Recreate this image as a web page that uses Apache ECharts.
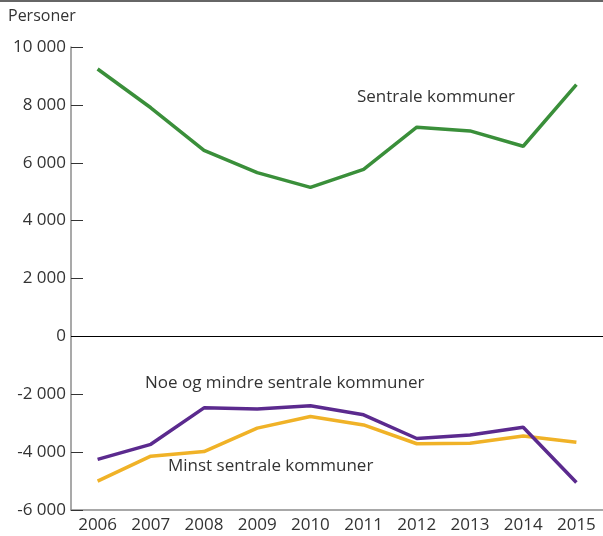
<!DOCTYPE html>
<html>
<head>
<meta charset="utf-8">
<script src="https://cdn.jsdelivr.net/npm/echarts@6/dist/echarts.min.js"></script>
<style>
  html, body { margin: 0; padding: 0; background: #fff; }
  #chart { width: 603px; height: 536px; }
</style>
</head>
<body>
<div id="chart"></div>
<script>
// år og verdier lest av figuren
var years = ['2006', '2007', '2008', '2009', '2010', '2011', '2012', '2013', '2014', '2015'];
var sentrale = [9240, 7900, 6430, 5660, 5150, 5770, 7230, 7100, 6570, 8700];
var noeMindre = [-4250, -3730, -2470, -2510, -2400, -2710, -3530, -3410, -3140, -5050];
var minst = [-5000, -4140, -3980, -3170, -2770, -3060, -3710, -3690, -3440, -3660];

var font = '"Open Sans", "Noto Sans", sans-serif';

function fmt(v) {
    var s = Math.abs(v).toString().replace(/\B(?=(\d{3})+(?!\d))/g, ' ');
    return (v < 0 ? '-' : '') + s;
}

var myChart = echarts.init(document.getElementById('chart'));
var option = {
    animation: false,
    grid: { left: 71, top: 47, bottom: 26, width: 538 },
    xAxis: {
        type: 'category',
        data: years,
        boundaryGap: true,
        axisLine: { onZero: false, lineStyle: { color: '#8c8c8c', width: 1.5 } },
        axisTick: { alignWithLabel: true, inside: true, length: 12, lineStyle: { color: '#8c8c8c' } },
        axisLabel: { interval: 0, hideOverlap: false, color: '#333', fontSize: 17, fontFamily: font, margin: 7 }
    },
    yAxis: {
        type: 'value',
        min: -6000, max: 10000, interval: 2000,
        axisLine: { show: true, lineStyle: { color: '#8c8c8c', width: 1.5 } },
        axisTick: { show: true, inside: true, length: 12, lineStyle: { color: '#333' } },
        splitLine: { show: false },
        axisLabel: { color: '#333', fontSize: 17, fontFamily: font, margin: 5, formatter: fmt }
    },
    graphic: [
        { type: 'line', shape: { x1: 0, y1: 1, x2: 603, y2: 1 }, style: { stroke: '#333', lineWidth: 1.5 } },
        { type: 'text', left: 8, top: 8, style: { text: 'Personer', fill: '#333', font: '16px ' + font } },
        { type: 'text', left: 357, top: 89, style: { text: 'Sentrale kommuner', fill: '#333', font: '17px ' + font } },
        { type: 'text', left: 145, top: 375, style: { text: 'Noe og mindre sentrale kommuner', fill: '#333', font: '17px ' + font } },
        { type: 'text', left: 168, top: 458, style: { text: 'Minst sentrale kommuner', fill: '#333', font: '17px ' + font } }
    ],
    series: [
        {
            name: 'Sentrale kommuner', type: 'line', data: sentrale,
            symbol: 'none', lineStyle: { color: '#3a8f3a', width: 3.5 },
            markLine: {
                silent: true, symbol: 'none', label: { show: false },
                lineStyle: { color: '#000', width: 1, type: 'solid' },
                data: [{ yAxis: 0 }]
            }
        },
        {
            name: 'Minst sentrale kommuner', type: 'line', data: minst,
            symbol: 'none', lineStyle: { color: '#f0b227', width: 3.5 }
        },
        {
            name: 'Noe og mindre sentrale kommuner', type: 'line', data: noeMindre,
            symbol: 'none', lineStyle: { color: '#5b2a8e', width: 3.5 }
        }
    ]
};
myChart.setOption(option);
</script>
</body>
</html>
